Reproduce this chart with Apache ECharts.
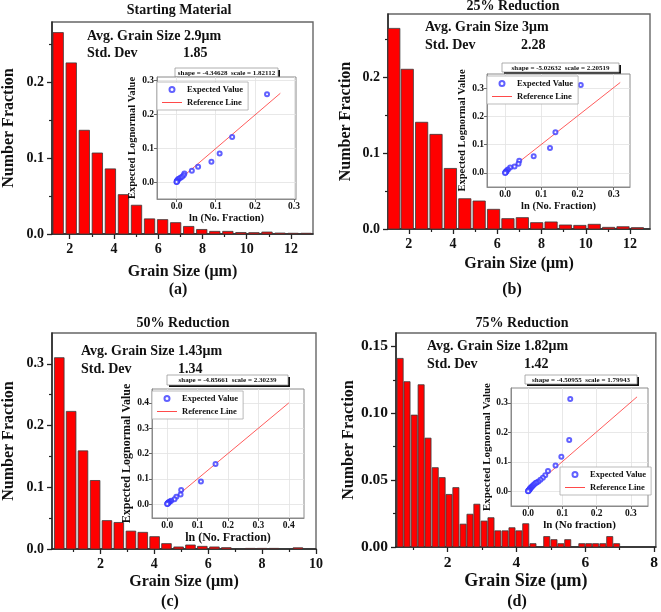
<!DOCTYPE html>
<html><head><meta charset="utf-8">
<script src="https://cdn.jsdelivr.net/npm/echarts@6/dist/echarts.min.js"></script>
<style>html,body{margin:0;padding:0;background:#fff}#c{width:661px;height:612px}</style>
</head><body><div id="c"></div>
<script>
// ---------- DATA ----------
const aCenters = [1.48,2.07,2.66,3.25,3.84,4.43,5.02,5.61,6.20,6.79,7.38,7.97,8.56,9.15,9.74,10.33,10.92,11.51,12.10,12.69];
const aValues  = [0.266,0.226,0.137,0.107,0.086,0.052,0.038,0.020,0.019,0.015,0.010,0.006,0.0035,0.0035,0.002,0.0018,0.0026,0.0013,0.001,0.001];
const bCenters = [1.32,1.93,2.58,3.23,3.88,4.53,5.18,5.83,6.48,7.13,7.78,8.43,9.08,9.73,10.38,11.03,11.68,12.33];
const bValues  = [0.265,0.211,0.141,0.125,0.080,0.040,0.037,0.026,0.0137,0.015,0.0084,0.0093,0.0053,0.0048,0.0062,0.0022,0.003,0.0018];
const cCenters = [0.47,0.91,1.35,1.80,2.24,2.68,3.13,3.57,4.01,4.45,4.90,5.34,5.78,6.23,6.67,7.11,7.56,8.00,8.44,8.88,9.33];
const cValues  = [0.310,0.223,0.159,0.111,0.046,0.043,0.029,0.027,0.020,0.0087,0.0033,0.0065,0.0043,0.0033,0.0022,0,0.001,0.001,0.001,0,0.002];
const dCenters = [0.62,0.82,1.03,1.23,1.43,1.64,1.84,2.04,2.24,2.45,2.65,2.85,3.06,3.26,3.46,3.67,3.87,4.07,4.27,4.48,4.68,4.88,5.09,5.29,5.49,5.70,5.90,6.10,6.30,6.51,6.71,6.91];
const dValues  = [0.141,0.1236,0.0986,0.1213,0.0814,0.0593,0.0519,0.0393,0.0444,0.0171,0.0245,0.0320,0.0194,0.0219,0.0121,0.0121,0.0144,0.0121,0.0174,0.0025,0,0.0078,0.0055,0.0025,0.0055,0,0.0025,0.0025,0.0025,0.0025,0.0078,0.0025];

// inset Q-Q points [ln(No. fraction), expected lognormal value]
const aPoints = [[0.231,0.259],[0.142,0.133],[0.110,0.084],[0.089,0.060],[0.055,0.045],[0.039,0.033],[0.020,0.025],[0.018,0.020],[0.014,0.016],[0.010,0.013],[0.006,0.010],[0.004,0.008],[0.002,0.005],[0.001,0.003],[0.001,0.002],[0.000,0.001],[0.000,0.000]];
const bPoints = [[0.209,0.311],[0.139,0.144],[0.124,0.088],[0.079,0.059],[0.039,0.043],[0.037,0.032],[0.026,0.023],[0.014,0.019],[0.008,0.012],[0.005,0.008],[0.003,0.005],[0.002,0.003],[0.001,0.002],[0.001,0.001],[0,0]];
const cPoints = [[0.222,0.363],[0.159,0.158],[0.111,0.089],[0.046,0.056],[0.044,0.038],[0.030,0.029],[0.024,0.019],[0.013,0.013],[0.009,0.010],[0.006,0.008],[0.004,0.005],[0.003,0.004],[0.002,0.003],[0.001,0.002],[0.001,0.001],[0,0]];
const dPoints = [[0.123,0.313],[0.120,0.174],[0.097,0.117],[0.080,0.087],[0.058,0.069],[0.050,0.054],[0.043,0.046],[0.036,0.039],[0.030,0.033],[0.025,0.030],[0.022,0.028],[0.018,0.024],[0.015,0.020],[0.012,0.017],[0.010,0.014],[0.008,0.012],[0.006,0.010],[0.005,0.008],[0.004,0.006],[0.003,0.004],[0.002,0.003],[0.001,0.002],[0,0.001],[0,0]];
const aRefLine = [[0,0],[0.265,0.262]];
const bRefLine = [[0,0],[0.318,0.320]];
const cRefLine = [[0,0],[0.400,0.400]];
const dRefLine = [[0,0],[0.318,0.320]];

// tick values
const aXTicks = [2,4,6,8,10,12], aXMinor = [3,5,7,9,11];
const bXTicks = [2,4,6,8,10,12], bXMinor = [3,5,7,9,11];
const cXTicks = [2,4,6,8,10],    cXMinor = [1,3,5,7,9];
const dXTicks = [2,4,6,8],       dXMinor = [1,3,5,7];
const abcYTicks = [0,0.1,0.2,0.3], abcYMinor = [0.05,0.15,0.25];
const dYTicks = [0,0.05,0.10,0.15], dYMinor = [0.025,0.075,0.125];
const insetTicks3 = [0,0.1,0.2,0.3], insetTicks4 = [0,0.1,0.2,0.3,0.4];

// texts
const titles = ['Starting Material','25% Reduction','50% Reduction','75% Reduction'];
const avgTexts = ['Avg. Grain Size 2.9μm','Avg. Grain Size 3μm','Avg. Grain Size 1.43μm','Avg. Grain Size 1.82μm'];
const stdValues = ['1.85','2.28','1.34','1.42'];
const fitTexts = ['shape = -4.34628  scale = 1.82112','shape = -5.02632  scale = 2.20519','shape = -4.85661  scale = 2.30239','shape = -4.50955  scale = 1.79943'];
const panelTags = ['(a)','(b)','(c)','(d)'];
const insetXNames = ['ln (No. Fraction)','ln (No. Fraction)','ln (No. Fraction)','ln (No fraction)'];

// ---------- LAYOUT / STYLE ----------
const FONT = "'Liberation Serif','Times New Roman',serif";
const TXT = '#111';
const REF = '#ff4a4a';
const panels = [
  {centers:aCenters, values:aValues, points:aPoints, ref:aRefLine, xt:aXTicks, xm:aXMinor, yt:abcYTicks.slice(0,3), ym:abcYMinor, it:insetTicks3, dig:1,
   main:{left:51,top:22,width:262,height:212}, xr:[1.2,13], yr:[0,0.28], span:0.47, xGap:30, yGap:35, xNameSize:16, tickSize:14,
   inset:{left:157,top:77,width:139,height:122}, ixr:[-0.05,0.305], iyr:[-0.05,0.31], ixGap:12, iyGap:15, iNameSize:10.5,
   legend:{left:157,top:82,orient:'vertical'}, fit:{x:175,y:68,w:103,h:9},
   title:{x:179,y:10}, avg:{x:87,y:36}, std:{y:53,vx:183}, tag:{x:178,y:290}},
  {centers:bCenters, values:bValues, points:bPoints, ref:bRefLine, xt:bXTicks, xm:bXMinor, yt:abcYTicks.slice(0,3), ym:abcYMinor, it:insetTicks3, dig:1,
   main:{left:388,top:14,width:262,height:215}, xr:[1.06,12.9], yr:[0,0.284], span:0.555, xGap:27, yGap:34, xNameSize:16, tickSize:14,
   inset:{left:487,top:74,width:143,height:113}, ixr:[-0.05,0.345], iyr:[-0.05,0.35], ixGap:9, iyGap:16, iNameSize:10.5,
   legend:{left:487,top:76,orient:'vertical'}, fit:{x:502,y:63,w:117,h:9},
   title:{x:513,y:6}, avg:{x:425,y:27}, std:{y:45,vx:521}, tag:{x:512,y:290}},
  {centers:cCenters, values:cValues, points:cPoints, ref:cRefLine, xt:cXTicks, xm:cXMinor, yt:abcYTicks, ym:abcYMinor, it:insetTicks4, dig:1,
   main:{left:52,top:333,width:264,height:216}, xr:[0.2,10], yr:[0,0.35], span:0.358, xGap:25, yGap:35, xNameSize:16, tickSize:14,
   inset:{left:152,top:389,width:152,height:129}, ixr:[-0.05,0.45], iyr:[-0.055,0.455], ixGap:11, iyGap:16, iNameSize:12,
   legend:{left:152,top:391,orient:'vertical'}, fit:{x:167,y:375,w:121,h:10},
   title:{x:183,y:323}, avg:{x:81,y:351}, std:{y:369,vx:178}, tag:{x:170,y:602}},
  {centers:dCenters, values:dValues, points:dPoints, ref:dRefLine, xt:dXTicks, xm:dXMinor, yt:dYTicks, ym:dYMinor, it:insetTicks3, dig:2,
   main:{left:396,top:333,width:262,height:214}, xr:[0.5,8.05], yr:[0,0.16], span:0.177, xGap:24, yGap:33, xNameSize:18, tickSize:15.5,
   inset:{left:511,top:388,width:137,height:118}, ixr:[-0.05,0.35], iyr:[-0.05,0.35], ixGap:9, iyGap:16, iNameSize:11,
   legend:{left:560,top:467,orient:'vertical'}, fit:{x:525,y:375,w:112,h:9},
   title:{x:522,y:323}, avg:{x:427,y:346}, std:{y:364,vx:524}, tag:{x:517,y:602}}
];

const grid = [], xAxis = [], yAxis = [], series = [], legend = [], graphic = [];

function barRenderer(span){
  return function(params, api){
    const x = api.value(0), y = api.value(1);
    if (!y) return null;
    const p0 = api.coord([x - span/2, y]);
    const p1 = api.coord([x + span/2, 0]);
    const cs = params.coordSys;
    const r = echarts.graphic.clipRectByRect(
      {x:p0[0], y:p0[1], width:p1[0]-p0[0], height:p1[1]-p0[1]},
      {x:cs.x, y:cs.y, width:cs.width, height:cs.height});
    if (!r) return null;
    return {type:'rect', shape:r, style:{fill:'#ff0000', stroke:'#3a3a3a', lineWidth:0.8}};
  };
}
const lab = (size, extra) => Object.assign({fontFamily:FONT, fontWeight:'bold', fontSize:size, color:TXT}, extra||{});

panels.forEach((p, i) => {
  const gMain = grid.length;
  grid.push(Object.assign({show:true, borderColor:'#666', borderWidth:1.4, backgroundColor:'#fff', z:0}, p.main));
  const gIn = grid.length;
  grid.push(Object.assign({show:true, borderColor:'#8a8a8a', borderWidth:1, backgroundColor:'#fff', z:5}, p.inset));

  const xMain = xAxis.length;
  xAxis.push({type:'value', gridIndex:gMain, min:p.xr[0], max:p.xr[1], position:'bottom',
    axisLine:{show:true, onZero:false, lineStyle:{color:'#222', width:1.5}},
    axisTick:{show:true, customValues:p.xt, length:5, lineStyle:{color:'#222', width:1.3}},
    axisLabel:Object.assign({customValues:p.xt, margin:8, formatter:v=>String(v)}, lab(p.tickSize)),
    splitLine:{show:false},
    name:'Grain Size (μm)', nameLocation:'middle', nameGap:p.xGap, nameTextStyle:lab(p.xNameSize)});
  xAxis.push({type:'value', gridIndex:gMain, min:p.xr[0], max:p.xr[1], position:'bottom',
    axisLine:{show:false}, axisTick:{show:true, customValues:p.xm, length:3, lineStyle:{color:'#222', width:1.2}},
    axisLabel:{show:false}, splitLine:{show:false}});
  const yMain = yAxis.length;
  yAxis.push({type:'value', gridIndex:gMain, min:p.yr[0], max:p.yr[1], position:'left',
    axisLine:{show:true, onZero:false, lineStyle:{color:'#222', width:1.5}},
    axisTick:{show:true, customValues:p.yt, length:5, lineStyle:{color:'#222', width:1.3}},
    axisLabel:Object.assign({customValues:p.yt, margin:8, formatter:v=>v.toFixed(p.dig)}, lab(p.tickSize)),
    splitLine:{show:false},
    name:'Number Fraction', nameLocation:'middle', nameGap:p.yGap, nameTextStyle:lab(16)});
  yAxis.push({type:'value', gridIndex:gMain, min:p.yr[0], max:p.yr[1], position:'left',
    axisLine:{show:false}, axisTick:{show:true, customValues:p.ym, length:3, lineStyle:{color:'#222', width:1.2}},
    axisLabel:{show:false}, splitLine:{show:false}});

  const xIn = xAxis.length;
  xAxis.push({type:'value', gridIndex:gIn, min:p.ixr[0], max:p.ixr[1], position:'bottom', z:6,
    axisLine:{show:true, onZero:false, lineStyle:{color:'#8a8a8a', width:1}},
    axisTick:{show:true, customValues:p.it, length:3, lineStyle:{color:'#666'}},
    axisLabel:Object.assign({customValues:p.it, margin:3, formatter:v=>v.toFixed(1)}, lab(9.5)),
    splitLine:{show:false},
    name:insetXNames[i], nameLocation:'middle', nameGap:p.ixGap, nameTextStyle:lab(p.iNameSize)});
  const yIn = yAxis.length;
  yAxis.push({type:'value', gridIndex:gIn, min:p.iyr[0], max:p.iyr[1], position:'left', z:6,
    axisLine:{show:true, onZero:false, lineStyle:{color:'#8a8a8a', width:1}},
    axisTick:{show:true, customValues:p.it, length:3, lineStyle:{color:'#666'}},
    axisLabel:Object.assign({customValues:p.it, margin:3, formatter:v=>v.toFixed(1)}, lab(9.5)),
    splitLine:{show:false},
    name:'Expected Lognormal Value', nameLocation:'middle', nameGap:p.iyGap, nameTextStyle:lab(p.iNameSize)});

  // histogram bars
  series.push({type:'custom', name:'bars'+i, xAxisIndex:xMain, yAxisIndex:yMain, z:2,
    renderItem:barRenderer(p.span), encode:{x:0, y:1},
    data:p.centers.map((c, k) => [c, p.values[k]])});
  // inset scatter
  series.push({type:'scatter', name:'Expected Value', xAxisIndex:xIn, yAxisIndex:yIn, z:8,
    symbol:'emptyCircle', symbolSize:4, itemStyle:{color:'#3a3aff', borderWidth:0.9},
    data:p.points,
    markLine:{silent:true, symbol:'none', z:6, animation:false, label:{show:false},
      lineStyle:{color:'#e2e2e2', width:0.8, type:'solid'},
      data:p.it.map(v=>({xAxis:v})).concat(p.it.map(v=>({yAxis:v})))}});
  series.push({type:'line', name:'Reference Line', xAxisIndex:xIn, yAxisIndex:yIn, z:7,
    showSymbol:false, symbol:'none', color:REF, lineStyle:{color:REF, width:0.9}, itemStyle:{color:REF},
    data:p.ref});

  legend.push(Object.assign({show:true, selectedMode:false, z:9,
    data:[{name:'Expected Value', icon:'emptyCircle'},
          {name:'Reference Line', icon:'path://M0,0H20V1H0Z', itemStyle:{color:REF, borderWidth:0}}],
    itemWidth:20, itemHeight:5, itemGap:4, symbolKeepAspect:true,
    padding:[3,5,3,5], borderColor:'#aaa', borderWidth:0.8, backgroundColor:'#fff',
    textStyle:lab(8.5)}, p.legend));

  // texts
  const t = (text, x, y, size, align) => ({type:'text', x, y, z:9,
    style:{text, fill:TXT, font:'bold '+size+'px '+FONT, align, verticalAlign:'middle'}});
  graphic.push(t(titles[i], p.title.x, p.title.y, 14, 'center'));
  graphic.push(t(avgTexts[i], p.avg.x, p.avg.y, 14, 'left'));
  graphic.push(t('Std. Dev', p.avg.x, p.std.y, 14, 'left'));
  graphic.push(t(stdValues[i], p.std.vx, p.std.y, 14, 'left'));
  graphic.push(t(panelTags[i], p.tag.x, p.tag.y, 16, 'center'));
  const f = p.fit;
  graphic.push({type:'group', x:f.x, y:f.y, z:10, children:[
    {type:'rect', shape:{x:2, y:2, width:f.w, height:f.h}, style:{fill:'#111'}},
    {type:'rect', shape:{x:0, y:0, width:f.w, height:f.h}, style:{fill:'#fff', stroke:'#999', lineWidth:0.8}},
    {type:'text', x:f.w/2, y:f.h/2+0.5, style:{text:fitTexts[i], fill:TXT, font:'bold 7px '+FONT, align:'center', verticalAlign:'middle'}}
  ]});
});

const chart = echarts.init(document.getElementById('c'), null, {renderer:'canvas'});
chart.setOption({animation:false, backgroundColor:'#fff', grid, xAxis, yAxis, series, legend, graphic});
</script>
</body></html>
